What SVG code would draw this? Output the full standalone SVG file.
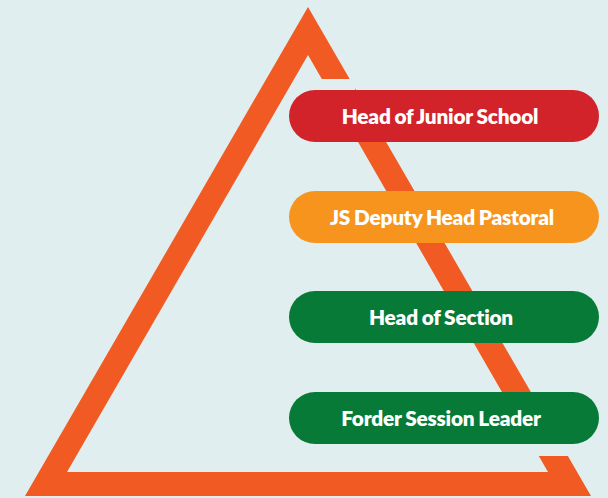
<svg xmlns="http://www.w3.org/2000/svg" width="608" height="498" viewBox="0 0 608 498">
<style>
.bg{fill:#E0EEEF}
.tri{fill:#F15A22;fill-rule:evenodd}
.lbl{font-family:Lato,"Liberation Sans",sans-serif;font-weight:800;font-size:20.8px;letter-spacing:-0.2px;word-spacing:-0.8px;fill:#FFFFFF;text-anchor:middle}
</style>
<rect class="bg" x="0" y="0" width="608" height="498"/>
<g id="triangle">
<path class="tri" d="M308,7 L591,496 L25,496 Z M308,55 L67,472 L548,472 Z"/>
<rect class="bg" x="315" y="79" width="40" height="11"/>
<rect class="bg" x="525" y="443" width="50" height="13"/>
</g>
<g id="node-head-junior">
<rect x="289" y="90" width="310" height="52" rx="26" fill="#D2232A"/>
<text class="lbl" x="440" y="123.5">Head of Junior School</text>
</g>
<g id="node-deputy">
<rect x="289" y="191" width="310" height="52" rx="26" fill="#F7941D"/>
<text class="lbl" x="442" y="224.5">JS Deputy Head Pastoral</text>
</g>
<g id="node-section">
<rect x="289" y="291" width="310" height="52" rx="26" fill="#067A36"/>
<text class="lbl" x="441" y="324.5">Head of Section</text>
</g>
<g id="node-forder">
<rect x="289" y="392" width="310" height="52" rx="26" fill="#067A36"/>
<text class="lbl" x="441" y="425.5">Forder Session Leader</text>
</g>
<g id="connectors"></g>
</svg>
